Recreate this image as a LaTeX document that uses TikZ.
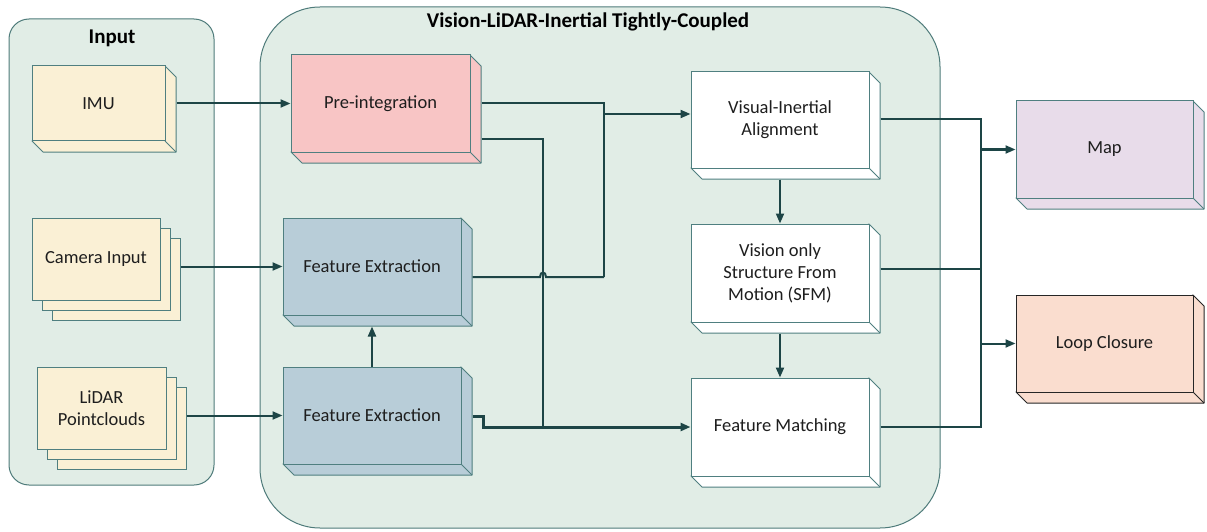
\documentclass[tikz,border=0pt]{standalone}
\usepackage{fontspec}
\setmainfont{Carlito}
\usetikzlibrary{arrows.meta,calc}
\definecolor{contfill}{HTML}{E1EDE6}
\definecolor{contline}{HTML}{4E7B7A}
\definecolor{boxline}{HTML}{4F7F80}
\definecolor{arrowc}{HTML}{1D4546}
\definecolor{inputfill}{HTML}{FAF0D5}
\definecolor{prefill}{HTML}{F8C5C5}
\definecolor{fefill}{HTML}{B8CDD8}
\definecolor{mapfill}{HTML}{E8DCEA}
\definecolor{lcfill}{HTML}{FADDCF}
\definecolor{txt}{HTML}{1E1E1E}
\tikzset{
  container/.style={fill=contfill,draw=contline,line width=1pt},
  face/.style={inner sep=0pt,line width=1pt,text=txt,font=\fontsize{18.5}{22}\selectfont,align=center},
  conn/.style={draw=arrowc,line width=2pt},
  thickconn/.style={draw=arrowc,line width=3pt},
  arr/.style={conn,-{Triangle[length=10pt,width=8pt]}},
  thickarr/.style={thickconn,-{Triangle[length=10pt,width=8pt]}},
  titletext/.style={font=\fontsize{21}{24}\selectfont\bfseries,text=black}
}
% #1 name, #2 x1, #3 y1, #4 x2, #5 y2, #6 fill, #7 line, #8 text
\newcommand\cuboidbox[8]{%
  \path[fill=#6,draw=#7,line width=1pt,line join=round]
    (#2,#5) -- ($(#2,#5)+(11,11)$) -- ($(#4,#5)+(11,11)$) -- ($(#4,#3)+(11,11)$) -- (#4,#3) -- cycle;
  \draw[#7,line width=1pt] (#4,#5) -- ($(#4,#5)+(11,11)$);
  \node[face,fill=#6,draw=#7,minimum width={(#4-#2)*1pt},minimum height={(#5-#3)*1pt}]
    (#1) at ({(#2+#4)/2},{(#3+#5)/2}) {#8};%
}
\newcommand\pagebox[8]{%
  \node[face,fill=#6,draw=#7,minimum width={(#4-#2)*1pt},minimum height={(#5-#3)*1pt}]
    (#1) at ({(#2+#4)/2},{(#3+#5)/2}) {#8};%
}
\begin{document}
\begin{tikzpicture}[x=1pt,y=-1pt]
\useasboundingbox (0,0) rectangle (1207,532);
% containers
\draw[container,rounded corners=20pt] (9,19) rectangle (214,485);
\draw[container,rounded corners=60pt] (260,7) rectangle (940,528);
\node[titletext] (tin) at (112,38) {Input};
\node[titletext] (tmain) at (588,22) {Vision-LiDAR-Inertial Tightly-Coupled};
% inputs
\cuboidbox{imu}{32}{66}{165}{141}{inputfill}{boxline}{IMU}
\pagebox{cam3}{52}{238}{180}{320}{inputfill}{boxline}{}
\pagebox{cam2}{42}{228}{170}{310}{inputfill}{boxline}{}
\pagebox{cam}{32}{218}{160}{300}{inputfill}{boxline}{Camera Input}
\pagebox{lid3}{57}{387}{186}{469}{inputfill}{boxline}{}
\pagebox{lid2}{47}{377}{176}{459}{inputfill}{boxline}{}
\pagebox{lid}{37}{367}{166}{449}{inputfill}{boxline}{LiDAR\\Pointclouds}
% main boxes
\cuboidbox{pre}{291}{55}{470}{152}{prefill}{boxline}{Pre-integration}
\cuboidbox{fea}{283}{218}{461}{315}{fefill}{boxline}{Feature Extraction}
\cuboidbox{feb}{283}{367}{461}{464}{fefill}{boxline}{Feature Extraction}
\cuboidbox{via}{691}{72}{869}{168}{white}{boxline}{Visual-Inertial\\Alignment}
\cuboidbox{sfm}{691}{224}{869}{322}{white}{boxline}{Vision only\\Structure From\\Motion (SFM)}
\cuboidbox{fm}{691}{378}{869}{476}{white}{boxline}{Feature Matching}
\cuboidbox{map}{1016}{101}{1193}{198}{mapfill}{boxline}{Map}
\cuboidbox{lc}{1016}{295}{1193}{392}{lcfill}{black!85}{Loop Closure}
% junction coordinates
\coordinate (jA) at (604,103.5);
\coordinate (jB) at (604,277);
\coordinate (jC) at (604,114);
\coordinate (kA) at (543,139);
\coordinate (kB) at (543,427);
\coordinate (rA) at (981,119);
\coordinate (rB) at (981,427);
% input connectors
\draw[arr] ($(imu.east)+(11,0)$) -- (pre.west);
\draw[arr] (cam3.east |- fea.west) -- (fea.west);
\draw[arr] (lid3.east |- feb.west) -- (feb.west);
\draw[arr] (feb.north) -- ([yshift=-11pt]fea.south);
% pre-integration and FE to VIA
\draw[conn,line join=miter] ($(pre.east)+(11,0)$) -- (jA) -- (jB);
\draw[conn] ($(fea.east)+(11,10.5)$) -- (540,277) .. controls (540,271) and (546,271) .. (546,277) -- (jB);
\draw[arr] (jC) -- (via.west |- jC);
% pre-integration to FM
\draw[conn,line join=miter] ($(pre.east)+(11,35.5)$) -- (kA) -- (kB);
\draw[thickarr,line join=miter] ($(feb.east)+(11,0.5)$) -- (483,416) -- (483,427) -- (fm.west);
% vertical flow
\draw[arr] ([yshift=-11pt]via.south) -- (sfm.north);
\draw[arr] ([yshift=-11pt]sfm.south) -- (fm.north);
% outputs
\draw[conn] ($(via.east)+(11,-1)$) -- (rA);
\draw[conn] ($(sfm.east)+(11,-4)$) -- (981,269);
\draw[conn] ($(fm.east)+(11,0)$) -- (rB);
\draw[conn,line cap=rect] (rA) -- (rB);
\draw[arr] (map.west -| rA) -- (map.west);
\draw[arr] (lc.west -| rA) -- (lc.west);
\end{tikzpicture}
\end{document}
